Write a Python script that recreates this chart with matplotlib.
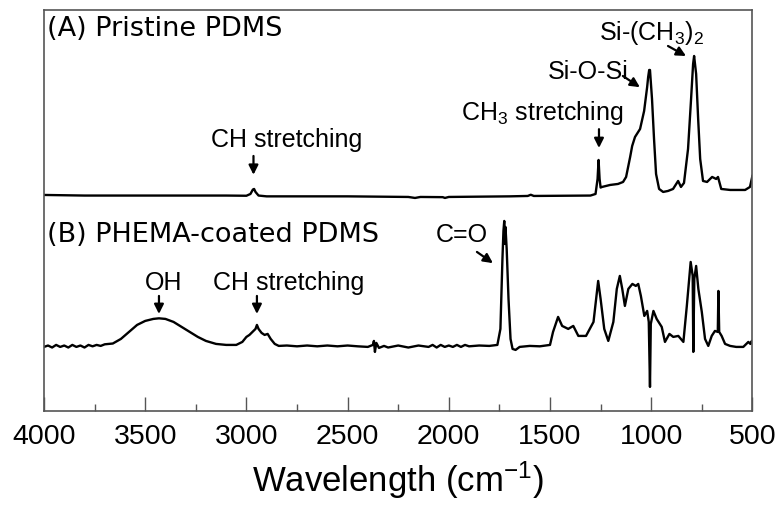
import matplotlib
matplotlib.use("Agg")
import matplotlib.pyplot as plt

plt.rcParams['font.family'] = ['Liberation Sans', 'DejaVu Sans']
plt.rcParams['mathtext.fontset'] = 'custom'
plt.rcParams['mathtext.rm'] = 'Liberation Sans'
plt.rcParams['mathtext.it'] = 'Liberation Sans:italic'
plt.rcParams['mathtext.bf'] = 'Liberation Sans:bold'
plt.rcParams['mathtext.default'] = 'regular'

# ---------------- data (wavenumber cm-1, absorbance a.u.) ----------------
wn_a = [4000, 3800, 3500, 3100, 3000, 2980, 2968, 2962, 2955, 2940, 2900, 2500,
        2200, 2167, 2140, 2030, 2019, 2000, 1700, 1610, 1595, 1580, 1300, 1275,
        1265, 1260, 1255, 1250, 1243, 1203, 1164, 1139, 1124, 1114, 1104, 1094,
        1080, 1055, 1035, 1020, 1015, 1010, 1006, 996, 986, 976, 961, 941, 917,
        892, 867, 853, 838, 818, 803, 793, 788, 778, 768, 758, 744, 724, 699,
        679, 670, 654, 610, 536, 512, 500]
abs_a = [0.25, 0.1, 0.1, 0.1, 0.05, 0.5, 1.6, 1.75, 1.0, 0.1, -0.1, -0.1,
         -0.25, -0.5, -0.25, -0.3, -0.5, -0.25, -0.1, 0.0, 0.3, 0.0, 0.1, 0.5,
         4.25, 9.0, 4.25, 2.1, 2.25, 2.75, 3.0, 3.5, 4.75, 7.25, 9.75, 12.5,
         14.75, 16.75, 21.25, 27.25, 29.75, 31.5, 31.5, 24.25, 14.25, 5.5, 1.75,
         1.0, 1.25, 1.75, 3.75, 2.25, 3.25, 11.75, 24.25, 33.0, 35.0, 30.5, 19.25,
         9.25, 3.75, 3.5, 4.75, 4.25, 4.75, 1.75, 1.5, 1.5, 2.25, 5.0]

wn_b = [4000, 3980, 3960, 3940, 3920, 3900, 3880, 3860, 3840, 3820, 3800, 3780,
        3760, 3740, 3720, 3700, 3660, 3620, 3580, 3540, 3500, 3460, 3432, 3400,
        3360, 3320, 3280, 3240, 3200, 3150, 3100, 3050, 3020, 3000, 2985, 2965,
        2955, 2948, 2940, 2925, 2910, 2895, 2880, 2860, 2840, 2800, 2750, 2700,
        2650, 2600, 2550, 2500, 2450, 2400, 2375, 2370, 2365, 2358, 2345, 2320,
        2300, 2250, 2200, 2150, 2100, 2080, 2060, 2040, 2020, 2000, 1980, 1960,
        1940, 1920, 1900, 1850, 1800, 1760, 1745, 1735, 1730, 1726, 1723, 1720,
        1714, 1705, 1695, 1685, 1670, 1650, 1600, 1550, 1500, 1485, 1460, 1440,
        1410, 1385, 1360, 1322, 1285, 1262, 1250, 1232, 1212, 1187, 1170, 1155,
        1143, 1130, 1113, 1093, 1076, 1064, 1051, 1034, 1020, 1012, 1006, 1002,
        989, 973, 948, 932, 910, 891, 866, 841, 824, 805, 795, 792, 787, 778,
        767, 750, 734, 718, 701, 685, 671, 668, 664, 652, 635, 610, 580, 545,
        520, 510, 503, 500]
abs_b = [-0.25, 0.1, -0.4, 0.25, -0.25, 0.1, -0.4, 0.25, -0.25, 0.1, -0.4, 0.25,
         -0.1, 0.25, 0.0, 0.4, 0.6, 1.75, 3.5, 5.25, 6.25, 6.75, 6.9, 6.75,
         6.0, 4.75, 3.5, 2.25, 1.25, 0.5, 0.25, 0.25, 1.0, 2.25, 2.75, 3.75,
         4.25, 5.25, 4.25, 3.25, 2.75, 3.0, 1.75, 0.5, 0.0, 0.1, -0.1, 0.1,
         -0.1, 0.1, -0.1, 0.1, -0.1, -0.25, 0.25, 1.25, -1.5, 0.75, -0.5, 0.0,
         -0.4, 0.1, -0.4, 0.1, -0.25, 0.25, -0.4, 0.25, -0.25, 0.1, -0.25, 0.25,
         -0.25, 0.25, -0.1, 0.1, 0.0, 0.25, 4.25, 21.75, 28.75, 31.25, 25.5, 29.75,
         24.25, 11.75, 1.75, -0.75, -1.0, -0.25, 0.0, -0.1, 0.25, 3.5, 7.25, 5.0,
         4.25, 5.0, 2.5, 2.5, 6.0, 16.25, 11.75, 4.25, 1.25, 6.0, 14.25, 17.5,
         14.25, 10.0, 14.25, 15.5, 15.0, 15.5, 12.5, 7.5, 8.75, 6.0, -10.25, 5.5,
         8.75, 6.75, 4.75, 1.0, 3.0, 2.25, 2.5, 1.0, 10.0, 21.0, 17.5, -1.5, 16.75, 20.0,
         14.25, 8.5, 1.75, 0.0, 2.5, 3.75, 3.5, 13.75, 3.5, 2.5, 0.5, 0.0, -0.25, -0.25,
         1.0, 0.5, 1.25, 0.75]

offset_a = 53.7
offset_b = 16.2
xticks = [4000, 3500, 3000, 2500, 2000, 1500, 1000, 500]
xtick_labels = ['4000', '3500', '3000', '2500', '2000', '1500', '1000', '500']

# ---------------- figure ----------------
fig = plt.figure(figsize=(7.8, 5.06), dpi=100)
ax = fig.add_axes([44/780, 1 - 411.7/506, (752.4 - 44)/780, (411.7 - 11)/506])

ax.plot(wn_a, [v + offset_a for v in abs_a], color='black', lw=1.7)
ax.plot(wn_b, [v + offset_b for v in abs_b], color='black', lw=1.7)

ax.set_xlim(4000, 500)
ax.set_ylim(0, 100.2)
ax.set_yticks([])
ax.set_xticks(xticks)
ax.set_xticklabels(xtick_labels)
ax.set_xticks([3750, 3250, 2750, 2250, 1750, 1250, 750], minor=True)
ax.tick_params(axis='x', which='major', direction='in', length=10, width=1.0,
               color='#555555', labelsize=20.5, pad=9)
ax.tick_params(axis='x', which='minor', direction='in', length=5, width=1.0,
               color='#555555')
for s in ax.spines.values():
    s.set_color('#555555')
    s.set_linewidth(1.2)

ax.set_xlabel('Wavelength (cm$^{-1}$)', fontsize=25, labelpad=7)

panel_kw = dict(family=['DejaVu Sans'], fontsize=19.5, ha='left', va='center')
ax.text(3987, 95.7, '(A) Pristine PDMS', **panel_kw)
ax.text(3987, 44.2, '(B) PHEMA-coated PDMS', **panel_kw)

lab_kw = dict(fontsize=18, ha='center', va='center')
arr = dict(arrowstyle='-|>', color='black', lw=1.6, mutation_scale=14,
           shrinkA=0, shrinkB=0)

def note(text, tx, ty, x0, y0, x1, y1):
    ax.text(tx, ty, text, **lab_kw)
    ax.annotate('', xy=(x1, y1), xytext=(x0, y0), arrowprops=arr)

note('CH stretching', 2802, 67.9, 2965, 63.7, 2965, 59.0)
note('CH$_3$ stretching', 1540, 74.7, 1258, 70.4, 1258, 65.7)
note('Si-O-Si', 1310, 84.9, 1140, 83.7, 1056, 80.9)
note('Si-(CH$_3$)$_2$', 997, 94.7, 917, 91.2, 828, 88.7)
note('C=O', 1935, 44.2, 1861, 39.7, 1782, 36.9)
note('OH', 3410, 32.2, 3432, 28.7, 3432, 24.2)
note('CH stretching', 2790, 32.2, 2948, 28.7, 2948, 24.2)

fig.savefig('out.png', dpi=100)
